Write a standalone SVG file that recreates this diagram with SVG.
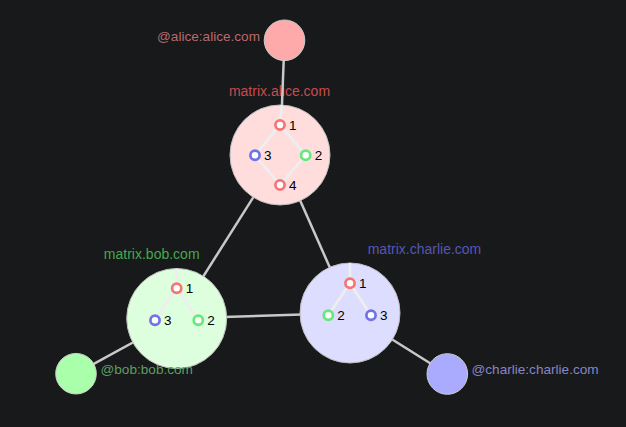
<svg xmlns="http://www.w3.org/2000/svg" width="626" height="427" viewBox="0 0 626 427">
<style>
text{font-family:"Liberation Sans",Arial,Helvetica,sans-serif}
.edge{stroke:#c8c8c8;stroke-width:2.5;fill:none}
.inner{stroke:#eeeeee;stroke-width:2.8;fill:none}
.srv{stroke:#bdbdbd;stroke-width:1}
.usr{stroke:#cccccc;stroke-width:1}
.slabel{font-size:14px;text-anchor:middle}
.ulabel{font-size:13.6px}
.ev{fill:#ffffff;stroke-width:2.7}
.r{stroke:#f57474}
.g{stroke:#66e87a}
.b{stroke:#7272e8}
.evl{font-size:13.5px;fill:#000000}
</style>
<rect width="626" height="427" fill="#18191b"/>
<g id="server-labels">
<text class="slabel" x="279.5" y="95.5" fill="#c64c50">matrix.alice.com</text>
<text class="slabel" x="151.7" y="259" fill="#46a84c">matrix.bob.com</text>
<text class="slabel" x="424.5" y="253.5" fill="#5656b4">matrix.charlie.com</text>
</g>
<g id="connectors">
<line class="edge" x1="284.5" y1="40.3" x2="280" y2="155"/>
<line class="edge" x1="280" y1="155" x2="176.7" y2="318.5"/>
<line class="edge" x1="280" y1="155" x2="350" y2="313"/>
<line class="edge" x1="176.7" y1="318.5" x2="350" y2="313"/>
<line class="edge" x1="76" y1="373.7" x2="176.7" y2="318.5"/>
<line class="edge" x1="447.3" y1="374" x2="350" y2="313"/>
</g>
<g id="server-alice">
<circle class="srv" cx="280" cy="155" r="50" fill="#ffdddd"/>
<line class="inner" x1="281.9" y1="105" x2="280" y2="125"/>
<polyline class="inner" points="280,125 305.7,155.3 280,185 255,155.3 280,125"/>
<circle class="ev r" cx="280" cy="125" r="4.6"/>
<circle class="ev g" cx="305.7" cy="155.3" r="4.6"/>
<circle class="ev b" cx="255" cy="155.3" r="4.6"/>
<circle class="ev r" cx="280" cy="185" r="4.6"/>
<text class="evl" x="289" y="130">1</text>
<text class="evl" x="314.7" y="160.3">2</text>
<text class="evl" x="264" y="160.3">3</text>
<text class="evl" x="289" y="190">4</text>
</g>
<g id="server-bob">
<circle class="srv" cx="176.7" cy="318.5" r="50" fill="#ddffdd"/>
<line class="inner" x1="176.7" y1="268.5" x2="176.7" y2="288.3"/>
<polyline class="inner" points="155,320.3 176.7,288.3 198.3,320.3"/>
<circle class="ev r" cx="176.7" cy="288.3" r="4.6"/>
<circle class="ev b" cx="155" cy="320.3" r="4.6"/>
<circle class="ev g" cx="198.3" cy="320.3" r="4.6"/>
<text class="evl" x="185.7" y="293.3">1</text>
<text class="evl" x="164" y="325.3">3</text>
<text class="evl" x="207.3" y="325.3">2</text>
</g>
<g id="server-charlie">
<circle class="srv" cx="350" cy="313" r="50" fill="#ddddff"/>
<line class="inner" x1="350" y1="263" x2="350" y2="283.3"/>
<polyline class="inner" points="328.3,315.3 350,283.3 371,315.3"/>
<circle class="ev r" cx="350" cy="283.3" r="4.6"/>
<circle class="ev g" cx="328.3" cy="315.3" r="4.6"/>
<circle class="ev b" cx="371" cy="315.3" r="4.6"/>
<text class="evl" x="359" y="288.3">1</text>
<text class="evl" x="337.3" y="320.3">2</text>
<text class="evl" x="380" y="320.3">3</text>
</g>
<g id="user-alice">
<circle class="usr" cx="284.5" cy="40.3" r="20.3" fill="#ffaaaa"/>
<text class="ulabel" x="260" y="41" text-anchor="end" fill="#b86a6c">@alice:alice.com</text>
</g>
<g id="user-bob">
<circle class="usr" cx="76" cy="373.7" r="20.3" fill="#aaffaa"/>
<text class="ulabel" x="100.5" y="373.8" fill="#5e9e62">@bob:bob.com</text>
</g>
<g id="user-charlie">
<circle class="usr" cx="447.3" cy="374" r="20.3" fill="#aaaaff"/>
<text class="ulabel" x="471.5" y="374" fill="#8686c6">@charlie:charlie.com</text>
</g>
</svg>
